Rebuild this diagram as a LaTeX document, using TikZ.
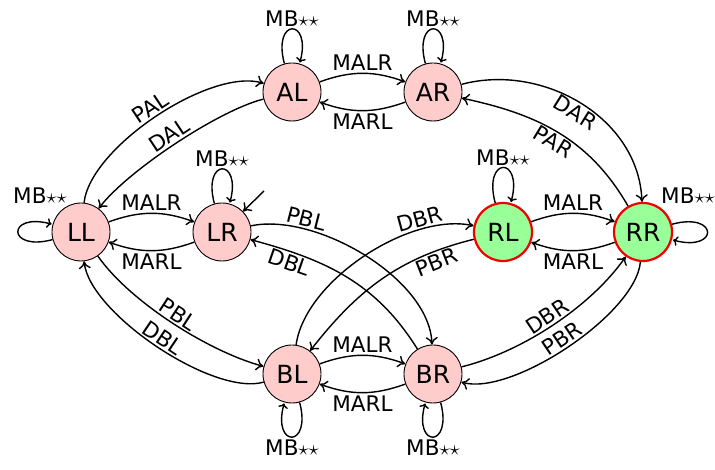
\documentclass[tikz,border=0pt]{standalone}
\usepackage{fontspec}
\setmainfont{DejaVu Sans}
\usetikzlibrary{arrows.meta}
\definecolor{pinkfill}{RGB}{255,204,204}
\definecolor{greenfill}{RGB}{153,255,153}
\definecolor{redborder}{RGB}{240,0,0}
\begin{document}
\begin{tikzpicture}[x=1pt,y=1pt,
  state/.style={circle,draw=black,line width=0.9pt,fill=pinkfill,minimum size=58pt,inner sep=0pt,font=\fontsize{25}{30}\selectfont},
  acc/.style={draw=redborder,line width=2.2pt,fill=greenfill},
  tr/.style={-{To[length=7.5pt,width=12pt]},line width=1.4pt},
  lab/.style={font=\fontsize{21.5}{25}\selectfont,inner sep=2pt}]
\useasboundingbox (0,0) rectangle (715,470);
\node[state] (LL) at (81,238) {LL};
\node[state] (LR) at (222,238) {LR};
\node[state] (AL) at (292,378) {AL};
\node[state] (AR) at (433,378) {AR};
\node[state,acc] (RL) at (503,238) {RL};
\node[state,acc] (RR) at (643,238) {RR};
\node[state] (BL) at (292,96) {BL};
\node[state] (BR) at (433,96) {BR};
% short pairs
\draw[tr] (LL) to[bend left=20] node[lab,above] {MALR} (LR);
\draw[tr] (LR) to[bend left=20] node[lab,below] {MARL} (LL);
\draw[tr] (AL) to[bend left=20] node[lab,above] {MALR} (AR);
\draw[tr] (AR) to[bend left=20] node[lab,below] {MARL} (AL);
\draw[tr] (RL) to[bend left=20] node[lab,above] {MALR} (RR);
\draw[tr] (RR) to[bend left=20] node[lab,below] {MARL} (RL);
\draw[tr] (BL) to[bend left=20] node[lab,above] {MALR} (BR);
\draw[tr] (BR) to[bend left=20] node[lab,below] {MARL} (BL);
% outer left
\draw[tr] (LL) to[out=84,in=163,looseness=0.66] node[lab,sloped,above] {PAL} (AL);
\draw[tr] (AL) to[out=194,in=53,looseness=0.6] node[lab,sloped,above] {DAL} (LL);
\draw[tr] (LL) to[out=-55,in=165,looseness=0.72] node[lab,sloped,above] {PBL} (BL);
\draw[tr] (BL) to[out=196,in=-84,looseness=0.62] node[lab,sloped,above] {DBL} (LL);
% outer right
\draw[tr] (AR) to[out=15,in=92] node[lab,sloped,below] {DAR} (RR);
\draw[tr] (RR) to[out=120,in=-12] node[lab,sloped,below] {PAR} (AR);
\draw[tr] (BR) to[out=14,in=-125,looseness=0.8] node[lab,sloped,above] {DBR} (RR);
\draw[tr] (RR) to[out=-95,in=-16,looseness=0.62] node[lab,sloped,above] {PBR} (BR);
% middle crossing
\draw[tr] (LR) to[out=12,in=92,looseness=0.78] node[lab,sloped,above,pos=0.24] {PBL} (BR);
\draw[tr] (BR) to[out=122,in=-15] node[lab,sloped,below,pos=0.8] {DBL} (LR);
\draw[tr] (BL) to[out=82,in=168,looseness=0.78] node[lab,sloped,above,pos=0.76] {DBR} (RL);
\draw[tr] (RL) to[out=194,in=52] node[lab,sloped,below,pos=0.2] {PBR} (BL);
% loops
\path (AL) edge[tr,loop above] node[lab,above] {MB$\star\star$} ();
\path (AR) edge[tr,loop above] node[lab,above] {MB$\star\star$} ();
\path (LR) edge[tr,loop above] node[lab,above] {MB$\star\star$} ();
\path (RL) edge[tr,loop above] node[lab,above] {MB$\star\star$} ();
\path (BL) edge[tr,loop below] node[lab,below] {MB$\star\star$} ();
\path (BR) edge[tr,loop below] node[lab,below] {MB$\star\star$} ();
\path (LL) edge[tr,loop left] ();
\path (RR) edge[tr,loop right] ();
\node[lab] (mLL) at ([shift={(-41,36)}]LL.center) {MB$\star\star$};
\node[lab] (mRR) at ([shift={(45,36)}]RR.center) {MB$\star\star$};
% initial
\coordinate (ini) at ([shift={(42,41)}]LR.center);
\draw[tr] (ini) -- (LR);
\end{tikzpicture}
\end{document}
